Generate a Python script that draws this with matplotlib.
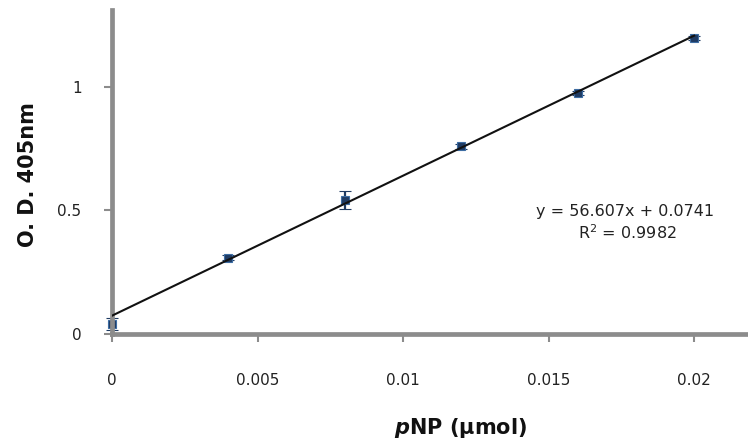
import matplotlib
matplotlib.use("Agg")
import matplotlib.pyplot as plt
import numpy as np

# pNP standard curve: amount (µmol) vs absorbance at 405 nm
pnp_umol = [0.0, 0.004, 0.008, 0.012, 0.016, 0.020]
od_405 = [0.040, 0.308, 0.541, 0.760, 0.975, 1.196]
od_err = [0.025, 0.010, 0.036, 0.010, 0.008, 0.008]

# linear fit reported on the chart
slope = 56.607
intercept = 0.0741
r_squared = 0.9982

x_ticks = [0, 0.005, 0.01, 0.015, 0.02]
x_tick_labels = ["0", "0.005", "0.01", "0.015", "0.02"]
y_ticks = [0, 0.5, 1]
y_tick_labels = ["0", "0.5", "1"]

plt.rcParams["font.family"] = ["DejaVu Sans"]
plt.rcParams["mathtext.fontset"] = "dejavusans"

W, H = 748, 442
fig = plt.figure(figsize=(W / 100, H / 100), dpi=100)
ax = fig.add_axes([112 / W, 1 - 334 / H, (W - 112) / W, (334 - 10) / H])

ax.set_xlim(0, 0.02185)
ax.set_ylim(0, 1.31)

spine_grey = "#8c8c8c"
for side in ("top", "right"):
    ax.spines[side].set_visible(False)
for side in ("left", "bottom"):
    ax.spines[side].set_color(spine_grey)
    ax.spines[side].set_linewidth(3.4)
    ax.spines[side].set_zorder(2.6)

ax.set_xticks(x_ticks)
ax.set_xticklabels(x_tick_labels)
ax.set_yticks(y_ticks)
ax.set_yticklabels(y_tick_labels)
ax.tick_params(axis="both", direction="out", length=6, width=1.5,
               color=spine_grey, labelsize=11, labelcolor="#222222")
ax.tick_params(axis="y", pad=16)
ax.tick_params(axis="x", pad=22)

# data points with error bars
ax.errorbar(pnp_umol, od_405, yerr=od_err, fmt="s", color="#1f3b63",
            markersize=6, markeredgecolor="#3d6da3", markeredgewidth=0.8,
            ecolor="#1f3b63", elinewidth=1.6, capsize=4, capthick=1.6,
            zorder=2, clip_on=False)

# trend line
fit_x = np.array([pnp_umol[0], pnp_umol[-1]])
ax.plot(fit_x, slope * fit_x + intercept, color="#111111", lw=1.5, zorder=3)

ax.text(625 / W, 1 - 211 / H, f"y = {slope}x + {intercept}",
        transform=fig.transFigure, ha="center", va="center",
        fontsize=11.5, color="#222222")
ax.text(627 / W, 1 - 233 / H, f"R$^2$ = {r_squared}",
        transform=fig.transFigure, ha="center", va="center",
        fontsize=11.5, color="#222222")

fig.text(28 / W, 1 - 175 / H, "O. D. 405nm", rotation=90, ha="center",
         va="center", fontsize=15, fontweight="bold", color="#111111")
fig.text(461 / W, 1 - 428 / H, r"$\mathbfit{p}$NP (µmol)", ha="center",
         va="center", fontsize=15, fontweight="bold", color="#111111")

fig.savefig("out.png", dpi=100)
